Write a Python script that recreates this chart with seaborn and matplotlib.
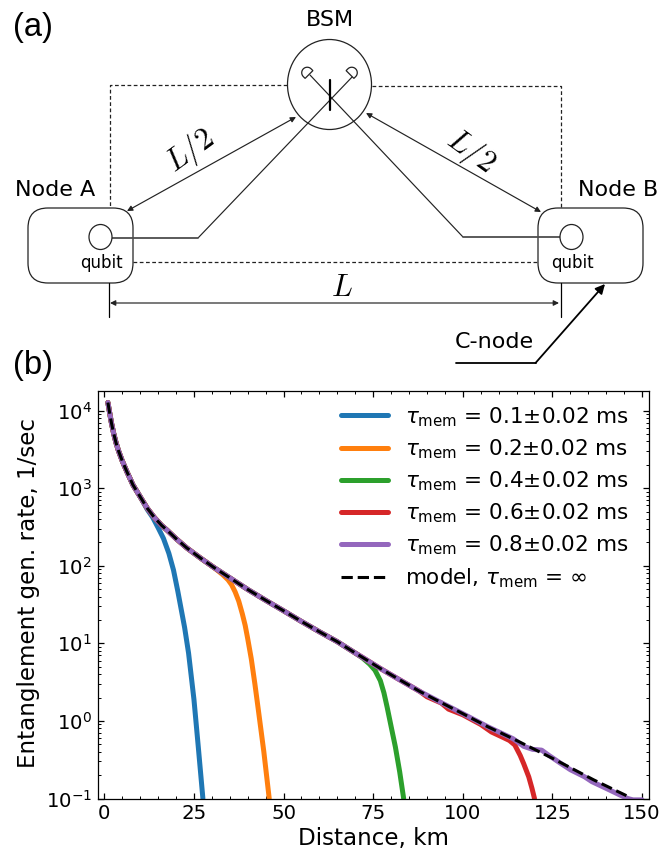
import matplotlib
matplotlib.use('Agg')
import matplotlib.pyplot as plt
import numpy as np
import seaborn as sns
from matplotlib.patches import Ellipse, FancyBboxPatch, Polygon
from matplotlib.ticker import LogLocator, NullFormatter

# values
model_km = [1, 1.5, 2, 2.6, 3.3, 4, 5, 6.3, 8, 10, 12, 14, 16, 17.5, 20, 23, 26.8, 30.5, 36, 40, 45, 50, 54.7,
            60, 65, 70, 72, 77, 82, 88, 94, 100, 107, 114, 125, 136.5, 146.7]
model_rate = [12700, 9300, 6900, 5100, 3800, 3000, 2250, 1630, 1100, 776, 550, 417, 331, 288, 224, 170, 126, 95.5,
              65.3, 49.5, 35.9, 26.3, 19.5, 14.1, 10.5, 7.5, 6.6, 4.74, 3.47, 2.4, 1.72, 1.24, 0.84, 0.59, 0.33,
              0.174, 0.103]

# every measured curve sits on the model until its own roll-off
blue_km = model_km[:10] + [12, 13.5, 15, 16.5, 18, 19.3, 20.5, 22.4, 23.5, 25, 26.2, 27.5]
blue_rate = model_rate[:10] + [530, 420, 310, 225, 145, 88, 47, 16, 7.5, 1.9, 0.47, 0.1]

orange_km = model_km[:18] + [33, 34.5, 35.5, 36.5, 37.5, 38.5, 39.3, 40, 41, 42, 43, 44.5, 46]
orange_rate = model_rate[:18] + [77, 66, 57, 46, 35, 24, 17, 11.5, 6.3, 3, 1.35, 0.4, 0.1]

green_km = model_km[:26] + [72, 74, 75.5, 77, 78, 78.9, 80, 81.2, 82.4, 83.5]
green_rate = model_rate[:26] + [6.5, 5.4, 4.5, 3.3, 2.3, 1.5, 0.85, 0.46, 0.22, 0.1]

red_km = model_km[:30] + [90, 94, 96, 100, 105, 108, 111, 113, 114.5, 116, 117, 118.4, 119.3, 120]
red_rate = model_rate[:30] + [2.05, 1.7, 1.42, 1.2, 0.9, 0.72, 0.62, 0.56, 0.49, 0.36, 0.28, 0.19, 0.135, 0.1]

purple_km = model_km[:34] + [117, 119.5, 122, 124, 127, 130, 134, 136, 140, 144, 146, 147.5, 150]
purple_rate = model_rate[:34] + [0.47, 0.43, 0.42, 0.36, 0.29, 0.235, 0.19, 0.165, 0.135, 0.11, 0.1, 0.096, 0.096]

colors = ['#1f77b4', '#ff7f0e', '#2ca02c', '#d62728', '#9467bd']
legend_labels = [r'$\tau_{\mathrm{mem}}$ = 0.1$\pm$0.02 ms', r'$\tau_{\mathrm{mem}}$ = 0.2$\pm$0.02 ms',
                 r'$\tau_{\mathrm{mem}}$ = 0.4$\pm$0.02 ms', r'$\tau_{\mathrm{mem}}$ = 0.6$\pm$0.02 ms',
                 r'$\tau_{\mathrm{mem}}$ = 0.8$\pm$0.02 ms']
model_label = r'model, $\tau_{\mathrm{mem}}$ = $\infty$'


def detector(x, y, angle):
    """D shaped detector, flat side centred on x, y, dome pointing along angle (degrees)"""
    t = np.radians(np.linspace(-90, 90, 25))
    px = np.concatenate([[0], 2.5 + 5.5 * np.cos(t), [0]])
    py = np.concatenate([[-5.5], 5.5 * np.sin(t), [5.5]])
    a = np.radians(angle)
    return Polygon(np.c_[x + px * np.cos(a) - py * np.sin(a), y + px * np.sin(a) + py * np.cos(a)],
                   closed=True, fc='white', ec='#222222', lw=0.9, zorder=3)


def draw_diagram(ax):
    """Panel (a), drawn in figure pixels"""
    ink = '#222222'
    thin = dict(color=ink, lw=0.85)
    dash = dict(color=ink, lw=0.9, ls=(0, (3, 2)))

    # classical links
    ax.plot([287, 110, 110], [85, 85, 208], **dash)
    ax.plot([372, 560.5, 560.5], [86, 86, 208], **dash)
    ax.plot([133, 538], [262, 262], **dash)

    # fibres
    ax.plot([112, 198, 354], [238, 238, 75], **thin)
    ax.plot([560, 463, 310], [237, 237, 75], **thin)
    ax.plot([112, 198], [238, 238], color='#555555', lw=1.1)
    ax.plot([560, 463], [237, 237], color='#555555', lw=1.1)
    ax.plot([329.5, 329.5], [80, 110], color='black', lw=1.6)

    ax.add_patch(detector(309, 74.5, 225))
    ax.add_patch(detector(350, 74.5, 315))

    ax.add_patch(Ellipse((329.5, 84.5), 84, 90, fc='none', ec=ink, lw=0.9))
    for x in [28, 538]:
        ax.add_patch(FancyBboxPatch((x + 18, 226), 69, 39, boxstyle='round,pad=18,rounding_size=20',
                                    fc='none', ec=ink, lw=0.9))
    for x in [100.5, 571.5]:
        ax.add_patch(Ellipse((x, 237), 23, 25, fc='white', ec=ink, lw=0.9, zorder=3))

    # distance markers
    ax.plot([108.5, 108.5], [283, 317], color='black', lw=0.9)
    ax.plot([560.5, 560.5], [283, 317], color='black', lw=0.9)
    arrow = dict(arrowstyle='<|-|>', color=ink, lw=0.85, mutation_scale=8, shrinkA=0, shrinkB=0)
    for start, end in [((110, 303), (559, 303)), ((127, 211), (296, 117)), ((366, 113), (541, 212))]:
        ax.annotate('', xy=end, xytext=start, arrowprops=arrow)
    ax.annotate('', xy=(605, 284), xytext=(535.5, 363),
                arrowprops=dict(arrowstyle='-|>', color='black', lw=1.3, mutation_scale=14, shrinkA=0, shrinkB=0))
    ax.plot([456, 535.5], [363, 363], color='black', lw=1.3)

    # labels
    ax.text(330, 20, 'BSM', fontsize=16, ha='center', va='center')
    ax.text(55, 190, 'Node A', fontsize=16, ha='center', va='center')
    ax.text(618, 190, 'Node B', fontsize=16, ha='center', va='center')
    ax.text(101, 263, 'qubit', fontsize=12, ha='center', va='center')
    ax.text(572, 263, 'qubit', fontsize=12, ha='center', va='center')
    ax.text(494, 342, 'C-node', fontsize=16, ha='center', va='center')
    ax.text(342, 287, '$L$', fontsize=22, ha='center', va='center', math_fontfamily='cm')
    ax.text(190, 151, '$L/2$', fontsize=22, ha='center', va='center', rotation=36, math_fontfamily='cm')
    ax.text(471, 152, '$L/2$', fontsize=22, ha='center', va='center', rotation=-36, math_fontfamily='cm')
    ax.text(13, 27, '(a)', fontsize=23.5, family='Liberation Sans', ha='left', va='center')
    ax.text(13, 365, '(b)', fontsize=23.5, family='Liberation Sans', ha='left', va='center')


def main():
    sns.set_theme(style='ticks')
    plt.rcParams['font.family'] = ['DejaVu Sans']
    plt.rcParams['text.color'] = 'black'
    plt.rcParams['axes.labelcolor'] = 'black'
    plt.rcParams['xtick.labelcolor'] = 'black'
    plt.rcParams['ytick.labelcolor'] = 'black'
    fig = plt.figure(figsize=(6.71, 8.5), dpi=100)

    ax = fig.add_axes([97.5 / 671, 1 - 798.5 / 850, (648.5 - 97.5) / 671, (798.5 - 391) / 850])
    curves = [(blue_km, blue_rate), (orange_km, orange_rate), (green_km, green_rate),
              (red_km, red_rate), (purple_km, purple_rate)]
    for (km, rate), color, label in zip(curves, colors, legend_labels):
        sns.lineplot(x=km, y=rate, color=color, lw=3.6, label=label, ax=ax, estimator=None, sort=False)
    sns.lineplot(x=model_km, y=model_rate, color='black', lw=2.2, ls='--', label=model_label, ax=ax,
                 estimator=None, sort=False)

    ax.set_yscale('log')
    ax.set_xlim(-1.9, 151.8)
    ax.set_ylim(0.1, 17900)
    ax.set_xticks([0, 25, 50, 75, 100, 125, 150])
    ax.set_xticks(np.arange(0, 151, 5), minor=True)
    ax.yaxis.set_major_locator(LogLocator(base=10, numticks=12))
    ax.yaxis.set_minor_locator(LogLocator(base=10, subs=np.arange(2, 10), numticks=12))
    ax.yaxis.set_minor_formatter(NullFormatter())
    ax.tick_params(which='both', direction='in', top=True, right=True, color='black')
    ax.tick_params(which='major', length=4.5, width=0.9, labelsize=14.2, pad=4)
    ax.tick_params(which='minor', length=2.4, width=0.7)
    ax.set_xlabel('Distance, km', fontsize=16.6)
    ax.set_ylabel('Entanglement gen. rate, 1/sec', fontsize=16.6)
    ax.xaxis.set_label_coords(0.5, -0.069)
    ax.yaxis.set_label_coords(-0.1035, 0.5055)
    for spine in ax.spines.values():
        spine.set_linewidth(0.9)
        spine.set_color('black')
    ax.legend(loc='upper right', bbox_to_anchor=(0.99, 1.0), frameon=False, fontsize=15.5, handlelength=2.2,
              labelspacing=0.4, borderaxespad=0.25, handletextpad=0.8, labelcolor='black')

    overlay = fig.add_axes([0, 0, 1, 1], facecolor='none')
    overlay.set_xlim(0, 671)
    overlay.set_ylim(850, 0)
    overlay.axis('off')
    draw_diagram(overlay)

    fig.savefig('out.png', dpi=100)
    plt.close(fig)


if __name__ == "__main__":
    main()
